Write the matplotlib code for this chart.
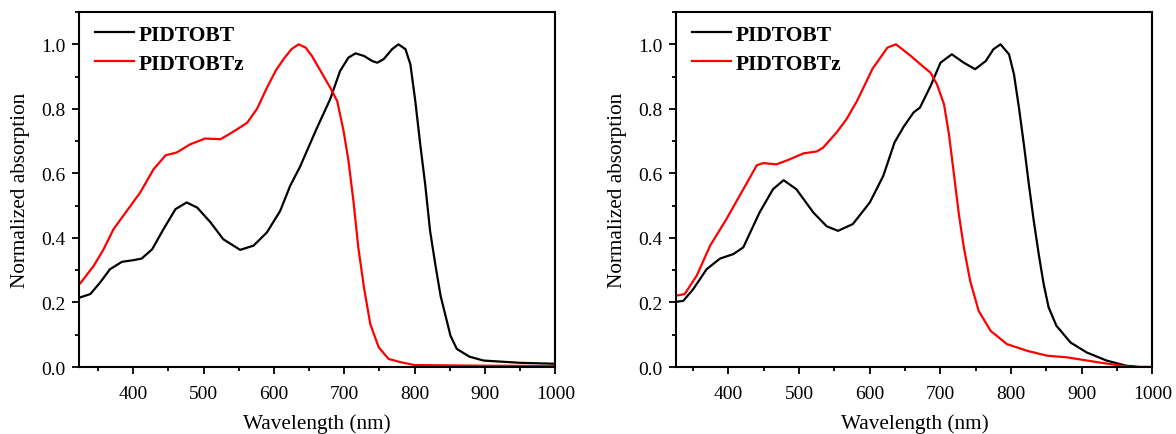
import numpy as np
import matplotlib.pyplot as plt
from matplotlib.ticker import MultipleLocator

# Left panel
wl_a_black = [325, 339, 353, 367, 384, 400, 412, 427, 443, 460, 476, 491, 510, 528, 552,
              571, 590, 609, 623, 637, 661, 680, 694, 706, 716, 728, 740, 747, 756, 768,
              777, 787, 794, 801, 808, 815, 822, 830, 837, 851, 860, 878, 898, 950, 1000]
abs_a_black = [0.216, 0.226, 0.262, 0.303, 0.326, 0.331, 0.336, 0.365, 0.427, 0.489, 0.51, 0.494, 0.448, 0.396, 0.363,
               0.376, 0.417, 0.484, 0.561, 0.62, 0.74, 0.83, 0.917, 0.959, 0.972, 0.964, 0.948, 0.943, 0.954, 0.985,
               1.0, 0.985, 0.938, 0.824, 0.69, 0.567, 0.422, 0.31, 0.22, 0.097, 0.056, 0.032, 0.02, 0.013, 0.01]

wl_a_red = [325, 344, 358, 372, 391, 410, 429, 446, 462, 481, 502, 524, 536, 548, 562,
            576, 590, 603, 614, 625, 635, 645, 654, 671, 680, 690, 699, 706, 713, 720,
            728, 737, 749, 763, 780, 800, 900, 1000]
abs_a_red = [0.26, 0.314, 0.365, 0.427, 0.484, 0.541, 0.613, 0.656, 0.665, 0.69, 0.708, 0.706, 0.721, 0.737, 0.757,
             0.80, 0.865, 0.92, 0.955, 0.985, 1.0, 0.99, 0.964, 0.90, 0.866, 0.824, 0.732, 0.639, 0.515, 0.37,
             0.247, 0.133, 0.061, 0.025, 0.015, 0.006, 0.004, 0.003]

# Right panel
wl_b_black = [326, 336, 350, 369, 388, 407, 421, 444, 463, 478, 496, 520, 539, 555, 576,
              600, 619, 635, 648, 662, 671, 686, 700, 716, 733, 749, 764, 775, 785, 797,
              804, 811, 818, 825, 832, 839, 846, 853, 864, 884, 907, 935, 963, 982, 1000]
abs_b_black = [0.202, 0.205, 0.241, 0.303, 0.336, 0.35, 0.371, 0.479, 0.551, 0.579, 0.551, 0.479, 0.436, 0.422, 0.443,
               0.51, 0.592, 0.696, 0.745, 0.789, 0.804, 0.871, 0.943, 0.969, 0.943, 0.923, 0.948, 0.985, 1.0, 0.969,
               0.907, 0.804, 0.69, 0.567, 0.453, 0.35, 0.257, 0.185, 0.128, 0.076, 0.045, 0.02, 0.004, 0.0, 0.0]

wl_b_red = [326, 338, 355, 374, 397, 421, 440, 449, 468, 487, 506, 525, 534, 553, 567,
            582, 604, 625, 637, 658, 677, 686, 695, 705, 712, 719, 726, 733, 742, 754,
            771, 794, 823, 851, 879, 922, 969, 1000]
abs_b_red = [0.221, 0.226, 0.283, 0.376, 0.458, 0.551, 0.625, 0.632, 0.628, 0.644, 0.662, 0.668, 0.68, 0.727, 0.768,
             0.825, 0.925, 0.99, 1.0, 0.964, 0.928, 0.912, 0.876, 0.814, 0.721, 0.598, 0.474, 0.371, 0.267, 0.174,
             0.112, 0.071, 0.05, 0.035, 0.03, 0.015, 0.0, 0.0]

plt.rcParams['font.family'] = ['Liberation Serif', 'DejaVu Serif']

fig = plt.figure(figsize=(11.76, 4.35), dpi=100)
ax1 = fig.add_axes([0.0672, 0.154, 0.405, 0.816])
ax2 = fig.add_axes([0.575, 0.154, 0.405, 0.816])

panels = [
    (ax1, wl_a_black, abs_a_black, wl_a_red, abs_a_red, 323),
    (ax2, wl_b_black, abs_b_black, wl_b_red, abs_b_red, 326),
]

for ax, xb, yb, xr, yr, xmin in panels:
    ax.plot(xb, yb, color='black', linewidth=1.6, label='PIDTOBT')
    ax.plot(xr, yr, color='#ff0000', linewidth=1.6, label='PIDTOBTz')
    ax.set_xlim(xmin, 1000)
    ax.set_ylim(0, 1.1)
    ax.xaxis.set_major_locator(MultipleLocator(100))
    ax.xaxis.set_minor_locator(MultipleLocator(50))
    ax.yaxis.set_minor_locator(MultipleLocator(0.1))
    ax.set_yticks(np.arange(0, 1.01, 0.2))
    ax.set_yticklabels([f'{v:.1f}' for v in np.arange(0, 1.01, 0.2)])
    ax.tick_params(which='major', direction='out', length=5, width=1.3, labelsize=14)
    ax.tick_params(which='minor', direction='out', length=3, width=1.3)
    ax.tick_params(axis='x', which='major', pad=8)
    ax.tick_params(axis='y', which='major', pad=5)
    for s in ax.spines.values():
        s.set_linewidth(1.5)
    ax.set_xlabel('Wavelength (nm)', fontsize=15.3, labelpad=8)
    ax.set_ylabel('Normalized absorption', fontsize=15.3, labelpad=8)
    ax.legend(loc='upper left', frameon=False, prop={'weight': 'bold', 'size': 15.5},
              handlelength=1.8, handletextpad=0.2, labelspacing=0.42,
              borderpad=0, borderaxespad=0, bbox_to_anchor=(0.034, 0.964))

fig.savefig('out.png', dpi=100)
